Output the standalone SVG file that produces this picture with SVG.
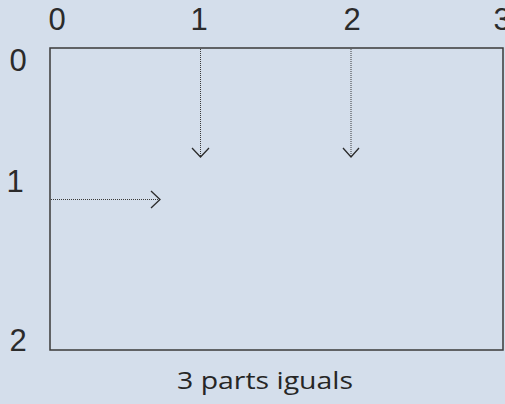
<svg xmlns="http://www.w3.org/2000/svg" width="505" height="404" viewBox="0 0 505 404">
  <style>
    .lbl { font-family: "Liberation Sans", "Open Sans", sans-serif; font-size: 31px; fill: #2b2b2b; text-anchor: middle; }
    .cap { font-family: "Open Sans", "Liberation Sans", sans-serif; font-size: 24.5px; fill: #262626; }
    .frame { fill: none; stroke: #3a3a3a; stroke-width: 1.5; }
    .guide { fill: none; stroke: #3a3a3a; stroke-width: 1; stroke-dasharray: 1 1; }
    .head { fill: none; stroke: #2b2b2b; stroke-width: 1.3; }
  </style>
  <rect width="505" height="404" fill="#d4deeb"/>

  <g id="grid">
    <rect class="frame" x="50" y="48" width="453" height="302"/>
  </g>

  <g id="top-scale">
    <text class="lbl" x="57" y="30">0</text>
    <text class="lbl" x="199" y="30">1</text>
    <text class="lbl" x="352" y="30">2</text>
    <text class="lbl" x="502" y="30">3</text>
  </g>

  <g id="left-scale">
    <text class="lbl" x="18" y="71">0</text>
    <text class="lbl" x="15" y="192">1</text>
    <text class="lbl" x="18" y="351">2</text>
  </g>

  <g id="connectors">
    <line class="guide" x1="200.5" y1="49" x2="200.5" y2="157"/>
    <polyline class="head" points="192,148 200.5,157 209,148"/>
    <line class="guide" x1="351" y1="49" x2="351" y2="157"/>
    <polyline class="head" points="343,148 351,157 359,148"/>
    <line class="guide" x1="51" y1="199.5" x2="160" y2="199.5"/>
    <polyline class="head" points="151,191 160,199.5 151,208"/>
  </g>

  <g id="caption">
    <text class="cap" x="177" y="389" textLength="176" lengthAdjust="spacingAndGlyphs">3 parts iguals</text>
  </g>
</svg>
